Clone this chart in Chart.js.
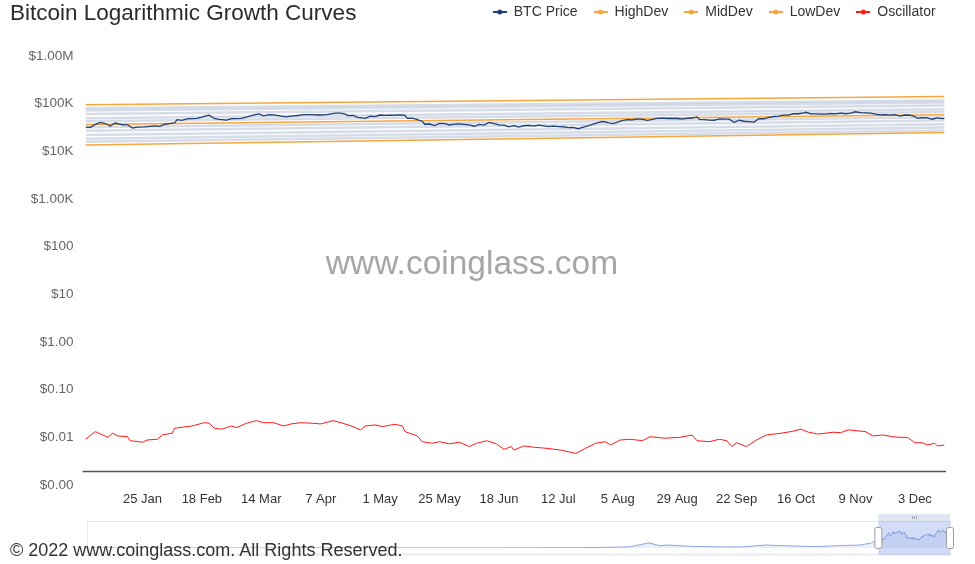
<!DOCTYPE html>
<html lang="en">
<head>
    <meta charset="UTF-8">
    <title>Bitcoin Logarithmic Growth Curves</title>
    <script src="https://cdn.jsdelivr.net/npm/chart.js"></script>
    <style>
        body { margin: 0; background: #fff; }
        #wrap { position: relative; width: 975px; height: 564px; overflow: hidden; font-family: "Liberation Sans", Arial, Helvetica, sans-serif; }
        #mainChart { position: absolute; left: 0; top: 0; }
        #navChart { position: absolute; left: 0; top: 505px; }
        .title { position: absolute; left: 10px; top: 0; font-size: 22.5px; line-height: 26px; color: #2b2b2b; }
        .watermark { position: absolute; left: 0; width: 944px; top: 243px; text-align: center; font-size: 33.5px; line-height: 40px; color: #a6a6a6; }
        .copy { position: absolute; left: 10px; top: 540px; font-size: 18px; line-height: 20px; color: #333; }
    </style>
</head>
<body>
<div id="wrap">
    <canvas id="mainChart" width="975" height="564"></canvas>
    <canvas id="navChart" width="975" height="59"></canvas>
    <div class="title">Bitcoin Logarithmic Growth Curves</div>
    <div class="watermark">www.coinglass.com</div>
    <div class="copy">© 2022 www.coinglass.com. All Rights Reserved.</div>
</div>

<script>
// ---- data (2021) ----
const year = 2021;

const priceDates = ['01-02','01-04','01-06','01-08','01-10','01-12','01-14','01-17','01-19','01-21','01-23','01-26','01-28','01-30',
    '02-01','02-03','02-05','02-07','02-08','02-10','02-12','02-14','02-16','02-18','02-20','02-21','02-23','02-25','02-28',
    '03-02','03-04','03-06','03-08','03-10','03-13','03-15','03-17','03-19','03-22','03-24','03-26','03-28','03-31',
    '04-02','04-04','04-06','04-08','04-10','04-13','04-15','04-17','04-18','04-20','04-22','04-25','04-27','04-29',
    '05-01','05-03','05-05','05-07','05-09','05-11','05-12','05-14','05-16','05-18','05-19','05-21','05-23','05-25','05-27','05-29','05-31',
    '06-02','06-04','06-06','06-08','06-10','06-12','06-14','06-16','06-18','06-20','06-22','06-24','06-26','06-28','06-30',
    '07-02','07-04','07-06','07-08','07-10','07-12','07-14','07-16','07-18','07-20','07-22','07-24','07-26','07-28','07-30',
    '08-01','08-03','08-05','08-07','08-09','08-11','08-13','08-15','08-17','08-19','08-21','08-23','08-25','08-27','08-29','08-31',
    '09-02','09-04','09-06','09-07','09-09','09-11','09-13','09-15','09-17','09-19','09-21','09-23','09-25','09-27','09-29',
    '10-01','10-03','10-05','10-07','10-09','10-11','10-13','10-15','10-17','10-19','10-20','10-22','10-24','10-26','10-28','10-30',
    '11-01','11-03','11-05','11-07','11-09','11-11','11-13','11-15','11-17','11-19','11-21','11-23','11-25','11-27','11-29',
    '12-01','12-03','12-04','12-06','12-08','12-10','12-12','12-14','12-15'];
const priceValues = [32100,31900,36800,40600,38300,34000,39200,35800,36000,30800,32100,32500,33400,34300,
    33500,37000,38100,39300,46200,44800,47900,48600,49200,52100,55900,57500,48900,47000,45100,
    48400,48400,49000,52200,56000,61200,55600,58900,58300,54500,52800,55000,55800,58800,
    59000,58700,57900,58000,59800,63500,63100,60400,56200,56500,51700,49000,55000,53600,
    57800,56600,57200,57400,58200,56700,49100,49700,46500,42900,37000,37400,34700,38400,38300,35700,37300,
    37600,36900,35800,33600,36700,35500,40200,38300,35800,35600,32500,34700,32200,34400,35000,
    33900,35300,34200,32900,33800,32900,32800,31500,31800,29800,32100,34300,37300,40000,42200,
    39900,38200,40900,44600,46400,45600,47800,47000,44800,46700,49000,49500,48900,49100,48800,47200,
    49300,50000,52700,46800,46400,45200,44900,48100,47300,47300,40700,44900,42800,42200,41000,
    48200,48200,51500,53800,54900,57500,57300,61600,61500,64300,66000,61000,60900,60300,60600,62000,
    60900,63100,61400,63300,67600,64900,64100,63600,60100,58100,58600,57300,58900,54800,57800,
    57200,53600,49200,50600,50500,47100,50100,48400,48900];

const oscDates = ['01-02','01-06','01-11','01-13','01-15','01-19','01-20','01-25','01-27','01-31',
    '02-02','02-06','02-07','02-10','02-14','02-19','02-21','02-23','02-26',
    '03-02','03-04','03-08','03-12','03-15','03-19','03-23','03-26','03-30',
    '04-04','04-07','04-12','04-16','04-20','04-23','04-25','04-29',
    '05-02','05-07','05-10','05-11','05-16','05-18','05-22','05-25','05-29',
    '06-02','06-06','06-09','06-13','06-17','06-20','06-23','06-24','06-28',
    '07-02','07-07','07-13','07-19','07-23','07-27','07-31',
    '08-02','08-06','08-10','08-15','08-18','08-24','08-30',
    '09-04','09-06','09-11','09-15','09-18','09-20','09-22','09-26','09-30',
    '10-04','10-10','10-14','10-18','10-21','10-25','10-31',
    '11-03','11-06','11-13','11-16','11-20','11-24','11-27','11-30',
    '12-03','12-06','12-08','12-11','12-12','12-15'];
const oscValues = [0.0091,0.0132,0.0100,0.0122,0.0107,0.0103,0.0085,0.0079,0.0088,0.0091,
    0.0112,0.0122,0.0155,0.0163,0.0173,0.0203,0.0197,0.0155,0.0148,
    0.0173,0.0160,0.0197,0.0224,0.0203,0.0203,0.0173,0.0191,0.0203,
    0.0197,0.0191,0.0224,0.0197,0.0168,0.0143,0.0173,0.0182,
    0.0168,0.0188,0.0173,0.0132,0.0107,0.0081,0.0075,0.0081,0.0073,
    0.0079,0.0064,0.0075,0.0085,0.0073,0.0056,0.0064,0.0054,0.0066,
    0.0062,0.0059,0.0054,0.0046,0.0059,0.0075,0.0081,
    0.0069,0.0088,0.0091,0.0085,0.0103,0.0096,0.0100,
    0.0112,0.0085,0.0081,0.0091,0.0085,0.0064,0.0077,0.0064,0.0088,
    0.0112,0.0122,0.0132,0.0148,0.0128,0.0117,0.0128,
    0.0125,0.0143,0.0132,0.0107,0.0112,0.0103,0.0100,0.0100,
    0.0077,0.0077,0.0069,0.0075,0.0066,0.0069];

// deviation curves: value at first and last date
const bandDates = ['01-02', '12-15'];
const highDev = [95000, 141000];
const midDev = [36400, 58800];
const lowDev = [13600, 24800];
const greyBands = [
    [80200, 117000], [71600, 106000], [61000, 92000], [49400, 76700], [42600, 67100],
    [31900, 52000], [26900, 44400], [22100, 37200], [18400, 31500], [15800, 27400]
];

const yTickValues = [0.001, 0.01, 0.1, 1, 10, 100, 1000, 10000, 100000, 1000000];
const yTickLabels = ['$0.00', '$0.01', '$0.10', '$1.00', '$10', '$100', '$1.00K', '$10K', '$100K', '$1.00M'];
const xTickDates = ['01-25','02-18','03-14','04-07','05-01','05-25','06-18','07-12','08-05','08-29','09-22','10-16','11-09','12-03'];
const xTickLabels = ['25 Jan','18 Feb','14 Mar','7 Apr','1 May','25 May','18 Jun','12 Jul','5 Aug','29 Aug','22 Sep','16 Oct','9 Nov','3 Dec'];

// navigator history (decimal year, price)
const navYears = [2010.55, 2011.1, 2011.45, 2011.9, 2012.5, 2013.0, 2013.3, 2013.7, 2013.92, 2014.3, 2014.9,
    2015.5, 2016.0, 2016.5, 2017.0, 2017.4, 2017.7, 2017.96, 2018.1, 2018.2, 2018.5, 2018.9,
    2019.2, 2019.5, 2019.8, 2020.2, 2020.5, 2020.75, 2020.9, 2020.99];
const navValues = [0.07, 1, 17, 3, 7, 13, 130, 130, 1000, 450, 350,
    250, 430, 650, 1000, 2500, 4300, 19000, 8500, 11000, 6500, 3800,
    4000, 11000, 8000, 5000, 9200, 10800, 18000, 29000];

const axisLineValue = 0.002;

// ---- helpers ----
function dayOfYear(md) {
    const [m, d] = md.split('-').map(Number);
    return (Date.UTC(year, m - 1, d) - Date.UTC(year, 0, 1)) / 86400000;
}

function toPoints(dates, values) {
    return dates.map((d, i) => ({ x: dayOfYear(d), y: values[i] }));
}

function legendMarker(color) {
    const c = document.createElement('canvas');
    c.width = 14; c.height = 8;
    const g = c.getContext('2d');
    g.strokeStyle = color; g.lineWidth = 2;
    g.beginPath(); g.moveTo(0, 4); g.lineTo(14, 4); g.stroke();
    g.fillStyle = color;
    g.beginPath(); g.arc(7, 4, 2.5, 0, Math.PI * 2); g.fill();
    return c;
}

Chart.defaults.font.family = '"Liberation Sans", Arial, Helvetica, sans-serif';
Chart.defaults.font.size = 13;

const firstDay = dayOfYear(priceDates[0]);
const lastDay = dayOfYear(priceDates[priceDates.length - 1]);

const navy = '#213f75';
const orange = '#f7a53c';
const red = '#ff1a1a';

function lineSet(label, data, color, width) {
    return {
        label: label, data: data, borderColor: color, backgroundColor: color,
        borderWidth: width, pointRadius: 0, pointStyle: legendMarker(color), tension: 0
    };
}

const datasets = [
    lineSet('BTC Price', toPoints(priceDates, priceValues), navy, 1.3),
    lineSet('HighDev', toPoints(bandDates, highDev), orange, 1.5),
    lineSet('MidDev', toPoints(bandDates, midDev), orange, 1.5),
    lineSet('LowDev', toPoints(bandDates, lowDev), orange, 1.5),
    lineSet('Oscillator', toPoints(oscDates, oscValues), red, 1),
];
greyBands.forEach(b => {
    const ds = lineSet('band', toPoints(bandDates, b), 'rgba(165,180,204,0.45)', 2.5);
    ds.isBand = true;
    datasets.push(ds);
});

// dark baseline above the x labels
const baselinePlugin = {
    id: 'baseline',
    afterDatasetsDraw(chart) {
        const { ctx, chartArea, scales } = chart;
        const y = Math.round(scales.y.getPixelForValue(axisLineValue)) + 0.5;
        ctx.save();
        ctx.strokeStyle = '#555';
        ctx.lineWidth = 1.5;
        ctx.beginPath();
        ctx.moveTo(chartArea.left - 3, y);
        ctx.lineTo(chartArea.right + 1.5, y);
        ctx.stroke();
        ctx.restore();
    }
};

new Chart(document.getElementById('mainChart'), {
    type: 'line',
    data: { datasets: datasets },
    options: {
        responsive: false,
        animation: false,
        devicePixelRatio: 1,
        layout: { padding: { top: -11, right: 23.4, bottom: 49, left: 0 } },
        plugins: {
            legend: {
                position: 'top',
                align: 'end',
                labels: {
                    usePointStyle: true,
                    pointStyleWidth: 14,
                    padding: 16,
                    color: '#333',
                    font: { size: 14 },
                    filter: (item, data) => !data.datasets[item.datasetIndex].isBand
                }
            },
            tooltip: { enabled: false }
        },
        scales: {
            x: {
                type: 'linear',
                min: firstDay,
                max: lastDay,
                afterBuildTicks: s => { s.ticks = xTickDates.map(d => ({ value: dayOfYear(d) })); },
                afterFit: s => { s.height = 30; },
                ticks: {
                    autoSkip: false, maxRotation: 0, padding: 7, color: '#333',
                    callback: (v, i) => xTickLabels[i]
                },
                grid: { display: false, drawTicks: false },
                border: { display: false }
            },
            y: {
                type: 'logarithmic',
                min: 0.001,
                max: 1000000,
                afterBuildTicks: s => { s.ticks = yTickValues.map(v => ({ value: v })); },
                afterFit: s => { s.width = 85.5; },
                ticks: {
                    autoSkip: false, padding: 12, color: '#666', font: { size: 13.5 },
                    callback: (v, i) => yTickLabels[i]
                },
                grid: { display: false, drawTicks: false },
                border: { display: false }
            },
            // spacers so the plot sits where the reference has it
            xTop: {
                type: 'linear', position: 'top', display: true,
                afterFit: s => { s.height = 27; },
                ticks: { display: false }, grid: { display: false, drawTicks: false }, border: { display: false }
            },
            yRight: {
                type: 'linear', position: 'right', display: true,
                afterFit: s => { s.width = 7; },
                ticks: { display: false }, grid: { display: false, drawTicks: false }, border: { display: false }
            }
        }
    },
    plugins: [baselinePlugin]
});

// ---- navigator ----
const navData = navYears.map((yr, i) => ({ x: yr, y: navValues[i] }))
    .concat(priceDates.map((d, i) => ({ x: year + dayOfYear(d) / 365, y: priceValues[i] })));
const selStart = year + firstDay / 365;
const selEnd = year + lastDay / 365;

const navPlugin = {
    id: 'navFrame',
    beforeDatasetsDraw(chart) {
        const { ctx, chartArea: a } = chart;
        ctx.save();
        ctx.strokeStyle = '#e3e8f1';
        ctx.lineWidth = 1;
        ctx.strokeRect(a.left + 0.5, a.top + 0.5, a.right - a.left, a.bottom - a.top + 7);
        ctx.fillStyle = '#eef1f7';
        ctx.fillRect(a.left, a.bottom + 5, a.right - a.left, 3);
        ctx.restore();
    },
    afterDatasetsDraw(chart) {
        const { ctx, chartArea: a, scales } = chart;
        const x0 = scales.x.getPixelForValue(selStart);
        const x1 = scales.x.getPixelForValue(selEnd);
        ctx.save();
        // scrollbar strip
        ctx.fillStyle = '#dfe5f0';
        ctx.fillRect(x0, a.top - 7, x1 - x0, 7);
        ctx.strokeStyle = '#9aa4b5';
        ctx.lineWidth = 1;
        const mid = Math.round((x0 + x1) / 2);
        [-2, 0, 2].forEach(dx => {
            ctx.beginPath();
            ctx.moveTo(mid + dx + 0.5, a.top - 5);
            ctx.lineTo(mid + dx + 0.5, a.top - 2);
            ctx.stroke();
        });
        // selected range
        ctx.fillStyle = 'rgba(110,140,225,0.30)';
        ctx.fillRect(x0, a.top, x1 - x0, a.bottom - a.top + 7);
        // handles
        [x0, x1].forEach(x => {
            ctx.fillStyle = '#fff';
            ctx.strokeStyle = '#9a9a9a';
            ctx.beginPath();
            ctx.roundRect(x - 3.5, a.top + 6.5, 7, 21, 2);
            ctx.fill();
            ctx.stroke();
        });
        ctx.restore();
    }
};

new Chart(document.getElementById('navChart'), {
    type: 'line',
    data: {
        datasets: [{
            data: navData,
            borderColor: '#8ea6dd',
            backgroundColor: 'rgba(196,210,242,0.35)',
            borderWidth: 1,
            fill: 'origin',
            pointRadius: 0,
            tension: 0
        }]
    },
    options: {
        responsive: false,
        animation: false,
        devicePixelRatio: 1,
        layout: { padding: { left: 87, right: 25, top: 16, bottom: 16 } },
        plugins: { legend: { display: false }, tooltip: { enabled: false } },
        scales: {
            x: { type: 'linear', min: navYears[0] - 0.05, max: selEnd, display: false },
            y: { type: 'linear', min: 0, max: 100000, display: false }
        }
    },
    plugins: [navPlugin]
});
</script>
</body>
</html>
